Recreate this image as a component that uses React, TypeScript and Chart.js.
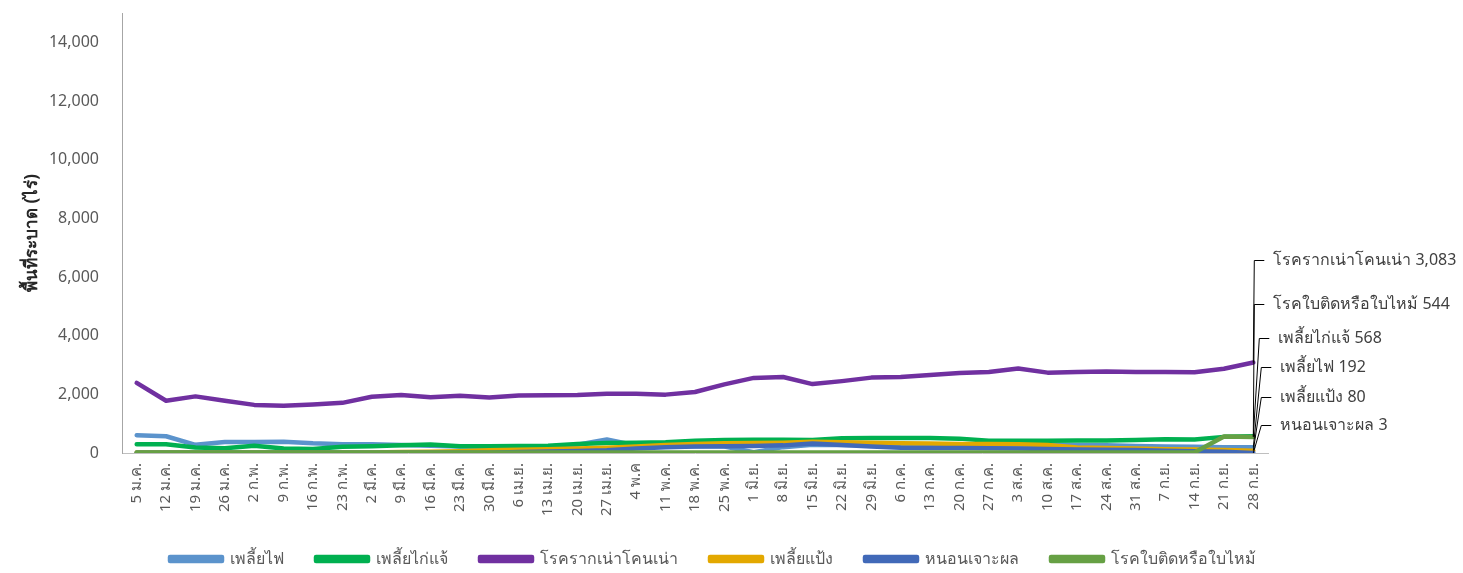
import React, { useEffect, useRef } from 'react';
import { Chart, registerables } from 'chart.js';

Chart.register(...registerables);

const categories = [
  '5 ม.ค.', '12 ม.ค.', '19 ม.ค.', '26 ม.ค.', '2 ก.พ.', '9 ก.พ.', '16 ก.พ.', '23 ก.พ.',
  '2 มี.ค.', '9 มี.ค.', '16 มี.ค.', '23 มี.ค.', '30 มี.ค.', '6 เม.ย.', '13 เม.ย.', '20 เม.ย.',
  '27 เม.ย.', '4 พ.ค', '11 พ.ค.', '18 พ.ค.', '25 พ.ค.', '1 มิ.ย.', '8 มิ.ย.', '15 มิ.ย.',
  '22 มิ.ย.', '29 มิ.ย.', '6 ก.ค.', '13 ก.ค.', '20 ก.ค.', '27 ก.ค.', '3 ส.ค.', '10 ส.ค.',
  '17 ส.ค.', '24 ส.ค.', '31 ส.ค.', '7 ก.ย.', '14 ก.ย.', '21 ก.ย.', '28 ก.ย.',
];

// เพลี้ยไฟ
const thrips = [606, 571, 280, 377, 377, 385, 330, 300, 300, 270, 250, 220, 210, 210, 220, 280, 460, 260, 240, 230, 220, 30, 200, 280, 270, 260, 260, 260, 270, 280, 290, 280, 270, 260, 240, 220, 210, 200, 192];
// เพลี้ยไก่แจ้
const jumpingLouse = [300, 300, 190, 160, 250, 150, 140, 210, 230, 260, 290, 230, 230, 240, 250, 310, 340, 350, 370, 420, 440, 450, 450, 440, 500, 510, 510, 510, 490, 420, 420, 420, 430, 430, 440, 470, 460, 550, 568];
// โรครากเน่าโคนเน่า
const rootRot = [2390, 1780, 1930, 1780, 1640, 1610, 1650, 1710, 1920, 1980, 1900, 1950, 1890, 1960, 1970, 1980, 2020, 2020, 1990, 2080, 2340, 2560, 2590, 2350, 2450, 2570, 2590, 2660, 2730, 2760, 2880, 2740, 2760, 2780, 2760, 2760, 2750, 2870, 3083];
// เพลี้ยแป้ง
const mealybug = [20, 20, 20, 20, 20, 20, 20, 20, 20, 30, 40, 60, 90, 110, 130, 150, 180, 220, 270, 310, 330, 340, 350, 380, 370, 350, 330, 320, 310, 310, 300, 270, 190, 170, 150, 130, 120, 100, 80];
// หนอนเจาะผล
const fruitBorer = [10, 10, 10, 10, 10, 10, 10, 10, 10, 10, 10, 10, 10, 30, 50, 70, 90, 150, 200, 220, 230, 240, 260, 320, 270, 220, 180, 170, 170, 160, 150, 140, 120, 110, 100, 80, 60, 40, 3];
// โรคใบติดหรือใบไหม้
const leafBlight = [20, 20, 20, 20, 20, 20, 20, 20, 20, 20, 20, 20, 20, 20, 20, 20, 20, 20, 20, 20, 20, 20, 20, 20, 20, 20, 20, 20, 20, 20, 20, 20, 20, 20, 20, 20, 20, 560, 544];

const seriesNames = ['เพลี้ยไฟ', 'เพลี้ยไก่แจ้', 'โรครากเน่าโคนเน่า', 'เพลี้ยแป้ง', 'หนอนเจาะผล', 'โรคใบติดหรือใบไหม้'];
const seriesValues = [thrips, jumpingLouse, rootRot, mealybug, fruitBorer, leafBlight];
const seriesColors = ['#5B93CC', '#00B050', '#7030A0', '#E3A800', '#4169B8', '#66A044'];

const yTicks = [0, 2000, 4000, 6000, 8000, 10000, 12000, 14000];
const yMax = 15000;

// end-of-line labels: which series, top to bottom, and the value level where each label sits
const endLabelSeries = [2, 5, 1, 0, 3, 4];
const endLabelLevels = [6572, 5066, 3936, 2944, 1917, 958];
const endLabelElbow = [1, 1, 6, 8, 8, 8];

const FONT = "Tahoma, 'Noto Sans', 'DejaVu Sans', sans-serif";

const endLabelsPlugin = {
  id: 'endLabels',
  afterDatasetsDraw(chart: any) {
    const { ctx } = chart;
    const xs = chart.scales.x;
    const ys = chart.scales.y;
    const last = categories.length - 1;
    const px = xs.getPixelForValue(last);
    ctx.save();
    ctx.strokeStyle = '#000000';
    ctx.lineWidth = 1;
    ctx.font = `16px ${FONT}`;
    ctx.fillStyle = '#404040';
    ctx.textBaseline = 'middle';
    ctx.textAlign = 'left';
    endLabelSeries.forEach((si, k) => {
      const v = seriesValues[si][last];
      const py = ys.getPixelForValue(v);
      const ly = Math.round(ys.getPixelForValue(endLabelLevels[k])) + 0.5;
      const ex = px + endLabelElbow[k];
      ctx.beginPath();
      ctx.moveTo(px, py);
      ctx.lineTo(ex, ly);
      ctx.lineTo(ex + 10, ly);
      ctx.stroke();
      ctx.fillText(`${seriesNames[si]} ${v.toLocaleString('en-US')}`, ex + 19, ly);
    });
    ctx.restore();
  },
};

export default function App() {
  const ref = useRef<HTMLCanvasElement | null>(null);
  useEffect(() => {
    if (!ref.current) return;
    const chart = new Chart(ref.current, {
      type: 'line',
      data: {
        labels: categories,
        datasets: seriesValues.map((vals, i) => ({
          label: seriesNames[i],
          data: vals,
          borderColor: seriesColors[i],
          backgroundColor: seriesColors[i],
          borderWidth: 4.5,
          pointRadius: 0,
          pointHoverRadius: 0,
          borderJoinStyle: 'round',
          borderCapStyle: 'round',
          tension: 0,
          order: seriesValues.length - i,
          yAxisID: 'y',
        })),
      },
      options: {
        animation: false,
        responsive: false,
        maintainAspectRatio: false,
        layout: { padding: { top: 13, right: 37, left: 0, bottom: 0 } },
        plugins: {
          legend: {
            position: 'bottom',
            labels: {
              boxWidth: 52,
              boxHeight: 4,
              padding: 32,
              color: '#595959',
              font: { family: FONT, size: 16 },
              sort: (a: any, b: any) => a.datasetIndex - b.datasetIndex,
            },
          },
          tooltip: { enabled: false },
        },
        scales: {
          x: {
            offset: true,
            grid: { display: false, drawTicks: false, tickLength: 0 },
            border: { display: true, color: '#BFBFBF', width: 1 },
            ticks: {
              autoSkip: false,
              maxRotation: 90,
              minRotation: 90,
              padding: 10,
              color: '#595959',
              font: { family: FONT, size: 15 },
            },
            afterFit: (s: any) => { s.height = 66; s.paddingLeft = 0; s.paddingRight = 0; },
          },
          y: {
            min: 0,
            max: yMax,
            afterBuildTicks: (s: any) => { s.ticks = yTicks.map((v) => ({ value: v })); },
            grid: { display: false, drawTicks: false, tickLength: 0 },
            border: { display: true, color: '#A6A6A6', width: 1 },
            ticks: {
              padding: 23,
              color: '#595959',
              font: { family: FONT, size: 16 },
              callback: (v: any) => Number(v).toLocaleString('en-US'),
            },
            title: {
              display: true,
              text: 'พื้นที่ระบาด (ไร่)',
              color: '#262626',
              font: { family: FONT, size: 17, weight: 'bold' },
              padding: { top: 22, bottom: 0 },
            },
            afterFit: (s: any) => { s.width = 122; s.paddingTop = 0; s.paddingBottom = 0; },
          },
          y2: {
            position: 'right',
            display: true,
            grid: { display: false, drawTicks: false },
            border: { display: false },
            ticks: { display: false },
            afterFit: (s: any) => { s.width = 158; s.paddingTop = 0; s.paddingBottom = 0; },
          },
        },
      },
      plugins: [endLabelsPlugin],
    } as any);
    return () => chart.destroy();
  }, []);
  return (
    <div style={{ position: 'fixed', left: 0, top: 0, width: 1463, height: 577, background: '#fff' }}>
      <canvas ref={ref} width={1463} height={577} style={{ display: 'block' }} />
    </div>
  );
}
